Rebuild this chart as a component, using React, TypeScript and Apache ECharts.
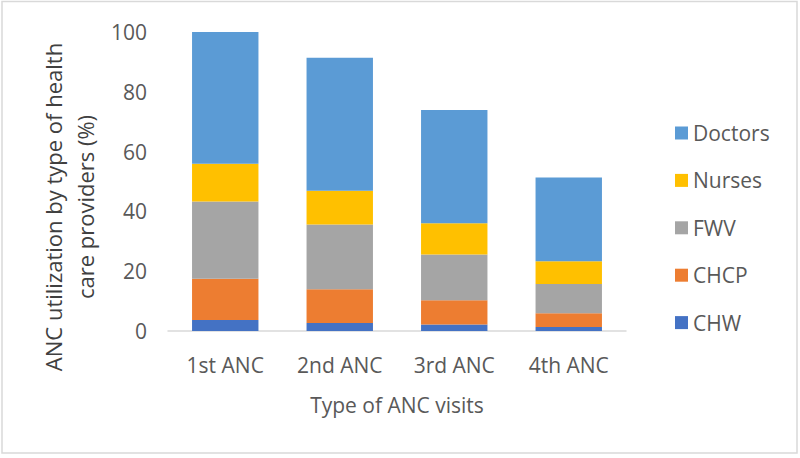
import React, { useEffect, useRef } from "react";
import * as echarts from "echarts";

const categories = ["1st ANC", "2nd ANC", "3rd ANC", "4th ANC"];
const chw = [3.7, 2.7, 2.2, 1.3];
const chcp = [13.8, 11.3, 8.1, 4.6];
const fwv = [25.8, 21.6, 15.3, 9.8];
const nurses = [12.6, 11.3, 10.4, 7.6];
const doctors = [44.1, 44.5, 37.9, 28.0];
const legendOrder = ["Doctors", "Nurses", "FWV", "CHCP", "CHW"];
const yTitle = "ANC utilization by type of health\ncare providers (%)";
const xTitle = "Type of ANC visits";

const FONT = "'Open Sans', sans-serif";
const TXT = "#595959";

export default function App() {
  const ref = useRef<HTMLDivElement>(null);
  useEffect(() => {
    if (!ref.current) return;
    const chart = echarts.init(ref.current, undefined, { renderer: "svg" });
    const mk = (name: string, data: number[], color: string) => ({
      name,
      type: "bar",
      stack: "total",
      data,
      barCategoryGap: "42%",
      itemStyle: { color },
    });
    chart.setOption({
      animation: false,
      backgroundColor: "#ffffff",
      textStyle: { fontFamily: FONT },
      grid: { left: 168, right: 174, top: 32, bottom: 127, containLabel: false },
      legend: {
        orient: "vertical",
        left: 670,
        top: 117.5,
        itemWidth: 13,
        itemHeight: 13,
        itemGap: 26.4,
        icon: "rect",
        data: legendOrder,
        textStyle: { color: TXT, fontSize: 21, fontFamily: FONT, lineHeight: 20, padding: [0, 0, 0, 0] },
      },
      xAxis: {
        type: "category",
        data: categories,
        axisLine: { show: true, lineStyle: { color: "#d9d9d9", width: 1.5 } },
        axisTick: { show: false },
        axisLabel: { color: TXT, fontSize: 21, fontFamily: FONT, margin: 23 },
        name: xTitle,
        nameLocation: "middle",
        nameGap: 63,
        nameTextStyle: { color: TXT, fontSize: 21, fontFamily: FONT },
      },
      yAxis: {
        type: "value",
        min: 0,
        max: 100,
        interval: 20,
        axisLine: { show: false },
        axisTick: { show: false },
        splitLine: { show: false },
        axisLabel: { color: TXT, fontSize: 21, fontFamily: FONT, margin: 21 },
      },
      graphic: [
        {
          type: "rect",
          silent: true,
          shape: { x: 2, y: 1.5, width: 795, height: 451.5 },
          style: { fill: "none", stroke: "#d9d9d9", lineWidth: 1.5 },
        },
        {
          type: "text",
          x: 69,
          y: 207,
          rotation: Math.PI / 2,
          style: {
            text: yTitle,
            fill: "#404040",
            font: `22px ${FONT}`,
            fontSize: 22,
            fontFamily: FONT,
            lineHeight: 32,
            textAlign: "center",
            textVerticalAlign: "middle",
          },
        },
      ],
      series: [
        mk("CHW", chw, "#4472C4"),
        mk("CHCP", chcp, "#ED7D31"),
        mk("FWV", fwv, "#A5A5A5"),
        mk("Nurses", nurses, "#FFC000"),
        mk("Doctors", doctors, "#5B9BD5"),
      ],
    });
    return () => chart.dispose();
  }, []);
  return (
    <div
      ref={ref}
      style={{ position: "absolute", left: 0, top: 0, width: 800, height: 458 }}
    />
  );
}
